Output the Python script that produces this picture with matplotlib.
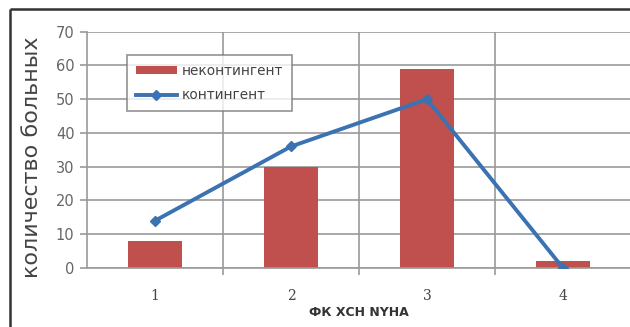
import numpy as np
import matplotlib.pyplot as plt
from matplotlib.lines import Line2D

classes = ["1", "2", "3", "4"]
noncontingent = [8, 30, 59, 2]
contingent = [14, 36, 50, 0]

bar_color = "#C0504D"
line_color = "#3A72B2"
grid_color = "#9a9a9a"

fig = plt.figure(figsize=(6.3, 3.27), dpi=100)
ax = fig.add_axes([87 / 630, 1 - 268 / 327, 544 / 630, (268 - 31.7) / 327])

x = np.arange(1, len(classes) + 1)
bars = ax.bar(x, noncontingent, width=0.39, color=bar_color, zorder=2)
line, = ax.plot(x, contingent, color=line_color, lw=2.8, marker="D", ms=5,
                zorder=3)

ax.set_xlim(0.5, 4.5)
ax.set_ylim(0, 70)
ax.set_yticks(range(0, 71, 10))
ax.set_xticks(x)
ax.set_xticklabels(classes, family="DejaVu Serif", fontsize=10, color="#444444")
ax.set_xticks(np.arange(1.5, 4.5, 1), minor=True)
ax.tick_params(axis="x", which="major", length=0, pad=15)
ax.tick_params(axis="x", which="minor", length=5, color=grid_color, width=1.2)
ax.tick_params(axis="y", length=5, color=grid_color, width=1.2,
               labelsize=10.5, labelcolor="#666666", pad=4)

ax.grid(axis="y", color=grid_color, lw=1.2, zorder=0)
ax.grid(axis="x", which="minor", color=grid_color, lw=1.2, zorder=0)
for side in ["top", "right"]:
    ax.spines[side].set_visible(False)
for side in ["left", "bottom"]:
    ax.spines[side].set_color(grid_color)
    ax.spines[side].set_linewidth(1.2)

ax.set_ylabel("количество больных", fontsize=16, color="#444444")
ax.yaxis.set_label_coords(-0.083, 0.47)
ax.set_xlabel("ФК ХСН NYHA", fontsize=9, fontweight="bold", color="#333333",
              labelpad=2)

leg = ax.legend([bars, line], ["неконтингент", "контингент"],
                loc="upper left", bbox_to_anchor=(0.0735, 0.901),
                borderaxespad=0, fontsize=9.8,
                frameon=True, fancybox=False, edgecolor="#777777",
                handlelength=3.0, handleheight=0.5, handletextpad=0.4,
                borderpad=0.65, labelspacing=0.75, labelcolor="#444444")
leg.get_frame().set_linewidth(1.2)

# outer chart frame
fig.add_artist(Line2D([10 / 630, 1.0], [1 - 9 / 327, 1 - 9 / 327],
                      color="#333333", lw=1.8, solid_capstyle="butt",
                      transform=fig.transFigure))
fig.add_artist(Line2D([10 / 630, 10 / 630], [0, 1 - 9 / 327],
                      color="#333333", lw=1.8, solid_capstyle="butt",
                      transform=fig.transFigure))

fig.savefig("out.png", dpi=100)
